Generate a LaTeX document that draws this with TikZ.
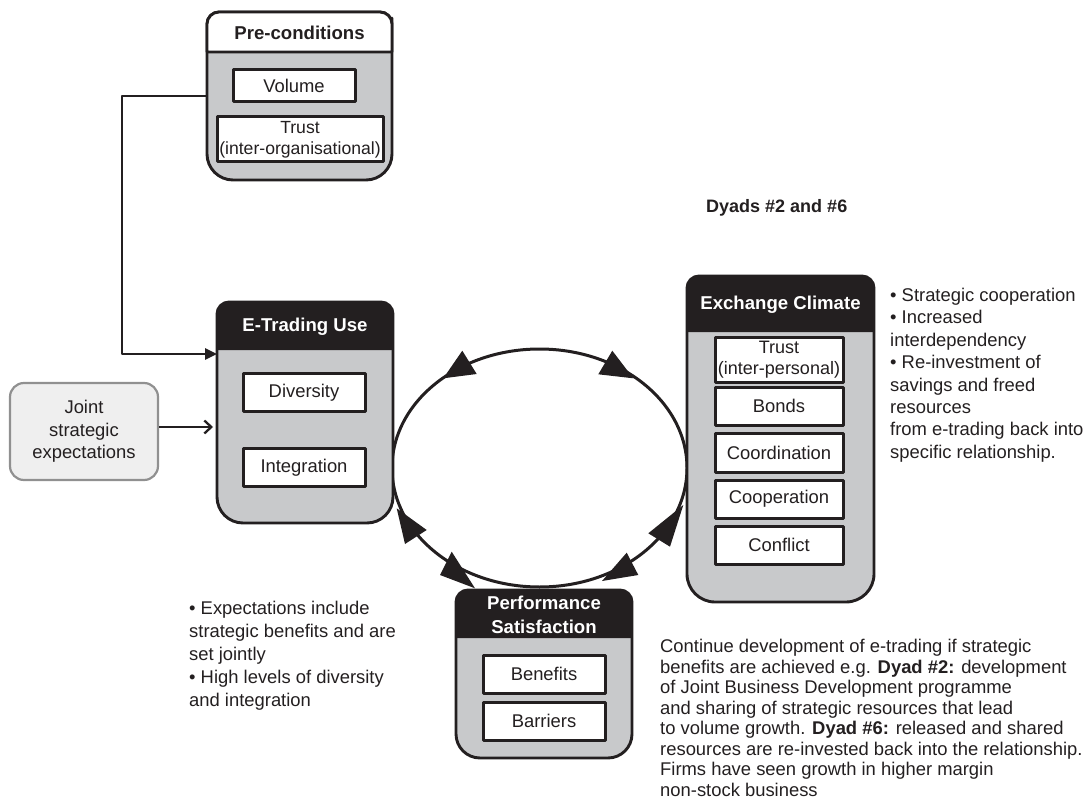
\documentclass[tikz,border=0pt]{standalone}
\usepackage{fontspec}
\setmainfont{Liberation Sans}
\usetikzlibrary{arrows.meta}
\definecolor{ink}{HTML}{231F20}
\definecolor{boxgray}{HTML}{C8C9CB}
\definecolor{jointfill}{HTML}{EFEFEF}
\definecolor{jointline}{HTML}{909090}
\begin{document}
\begin{tikzpicture}[x=1pt,y=-1pt,line join=round,
  frame/.style={draw=ink,line width=2.9,fill=boxgray},
  anchorbox/.style={inner sep=0,outer sep=0},
  txt/.style={font=\fontsize{18.4}{22.4}\selectfont,text=ink,inner sep=0,align=left,anchor=north west},
  item/.style={draw=ink,line width=3,fill=white,minimum width=122,minimum height=38,inner sep=0,
    font=\fontsize{18.4}{21}\selectfont,text=ink,align=center},
  boxtitle/.style={font=\bfseries\fontsize{18.6}{23}\selectfont,text=white,align=center,inner sep=0},
  tri/.style={fill=ink},
  conn/.style={draw=ink,line width=2.5}
]
\useasboundingbox (0,0) rectangle (1089,810);

% ---------- cycle ellipse ----------
\draw[draw=ink,line width=3] (539.5,468) ellipse [x radius=147.5,y radius=119];
\fill[tri] (462.3,350.7) -- (443.3,378.3) -- (476.7,374) -- cycle;
\fill[tri] (612.3,350.7) -- (598.3,374.3) -- (633.3,378.3) -- cycle;
\fill[tri] (396.7,508.3) -- (405,544) -- (426.7,530) -- cycle;
\fill[tri] (475,588.3) -- (451.7,551.7) -- (440,575) -- cycle;
\fill[tri] (683.3,505) -- (648.3,533.3) -- (670,546.7) -- cycle;
\fill[tri] (602,581) -- (626.7,552.7) -- (638.3,575) -- cycle;

% ---------- Pre-conditions ----------
\node[anchorbox,minimum width=185,minimum height=168] (pre) at (299.5,96) {};
\draw[frame] (207,96) [rounded corners=12] -- (207,12) -- (392,12) -- (392,96) [rounded corners=26] -- (392,180) -- (207,180) -- cycle;
\draw[draw=ink,line width=2.9,fill=white] (207,52) [rounded corners=12] -- (207,12) -- (392,12) -- (392,30) [sharp corners] -- (392,52) -- cycle;
\node[boxtitle,text=ink] (pretitle) at (299.5,33) {Pre-conditions};
\node[item,minimum width=122,minimum height=32] (volume) at (294,86) {Volume};
\node[item,minimum width=166,minimum height=45,font=\fontsize{17.6}{21}\selectfont] (trustorg) at (300,139.5) {Trust\\(inter-organisational)};

% ---------- E-Trading Use ----------
\node[anchorbox,minimum width=176,minimum height=221] (etr) at (305,412.5) {};
\draw[frame] (217,412) [rounded corners=12] -- (217,302) -- (393,302) -- (393,412) [rounded corners=26] -- (393,523) -- (217,523) -- cycle;
\fill[ink] (217,350) [rounded corners=12] -- (217,302) -- (393,302) -- (393,326) [sharp corners] -- (393,350) -- cycle;
\node[boxtitle] (etrtitle) at (305,327) {E-Trading Use};
\node[item] (diversity) at (304,392.5) {Diversity};
\node[item] (integration) at (304,467.5) {Integration};

% ---------- Exchange Climate ----------
\node[anchorbox,minimum width=187,minimum height=326] (exc) at (780.5,439) {};
\draw[frame] (687,439) [rounded corners=12] -- (687,276) -- (874,276) -- (874,439) [rounded corners=28] -- (874,602) -- (687,602) -- cycle;
\fill[ink] (687,332) [rounded corners=12] -- (687,276) -- (874,276) -- (874,304) [sharp corners] -- (874,332) -- cycle;
\node[boxtitle] (exctitle) at (780.5,305) {Exchange Climate};
\node[item,minimum width=128,minimum height=45,font=\fontsize{18}{21}\selectfont] (trustper) at (779,359.5) {Trust\\(inter-personal)};
\node[item,minimum width=128] (bonds) at (779,406) {Bonds};
\node[item,minimum width=128,minimum height=39] (coord) at (779,452.5) {Coordination};
\node[item,minimum width=128] (coop) at (779,499) {Cooperation};
\node[item,minimum width=128] (conflict) at (779,545) {Conflict};

% ---------- Performance Satisfaction ----------
\node[anchorbox,minimum width=176,minimum height=168] (perf) at (544,674) {};
\draw[frame] (456,674) [rounded corners=12] -- (456,590) -- (632,590) -- (632,674) [rounded corners=24] -- (632,758) -- (456,758) -- cycle;
\fill[ink] (456,638) [rounded corners=12] -- (456,590) -- (632,590) -- (632,614) [sharp corners] -- (632,638) -- cycle;
\node[boxtitle,font=\bfseries\fontsize{18.6}{23.5}\selectfont] (perftitle) at (544,615) {Performance\\Satisfaction};
\node[item] (benefits) at (544,674) {Benefits};
\node[item] (barriers) at (544,721) {Barriers};

% ---------- Joint strategic expectations ----------
\node[draw=jointline,line width=2.2,fill=jointfill,rounded corners=14,minimum width=148,minimum height=97,
  inner sep=0,font=\fontsize{18.4}{22.5}\selectfont,text=ink,align=center] (joint) at (84,431.5)
  {Joint\\strategic\\expectations};

% ---------- connectors ----------
\coordinate (bend) at (122,96);
\draw[conn,-{Triangle[length=12,width=11]}] (pre.west) -- (bend) |- ([yshift=-52]etr.north west);
\draw[conn,-{Straight Barb[length=7,width=13,line width=2.3]},shorten >=4] ([yshift=4.5]joint.east) -- ([yshift=4.5]joint.east -| etr.west);

% ---------- texts ----------
\node[txt,font=\bfseries\fontsize{18}{21}\selectfont,anchor=base west] (dyads) at (706,212.5) {Dyads \#2 and \#6};
\node[txt] (excnotes) at (890,288) {• Strategic cooperation\\• Increased\\interdependency\\• Re-investment of\\savings and freed\\resources\\from e-trading back into\\specific relationship.};
\node[txt,font=\fontsize{18.4}{22.9}\selectfont] (etrnotes) at (189,601) {• Expectations include\\strategic benefits and are\\set jointly\\• High levels of diversity\\and integration};
\node[txt,font=\fontsize{18.4}{20.5}\selectfont] (perfnotes) at (660,639) {Continue development of e-trading if strategic\\benefits are achieved e.g. \textbf{Dyad \#2:} development\\of Joint Business Development programme\\and sharing of strategic resources that lead\\to volume growth. \textbf{Dyad \#6:} released and shared\\resources are re-invested back into the relationship.\\Firms have seen growth in higher margin\\non-stock business};
\end{tikzpicture}
\end{document}
